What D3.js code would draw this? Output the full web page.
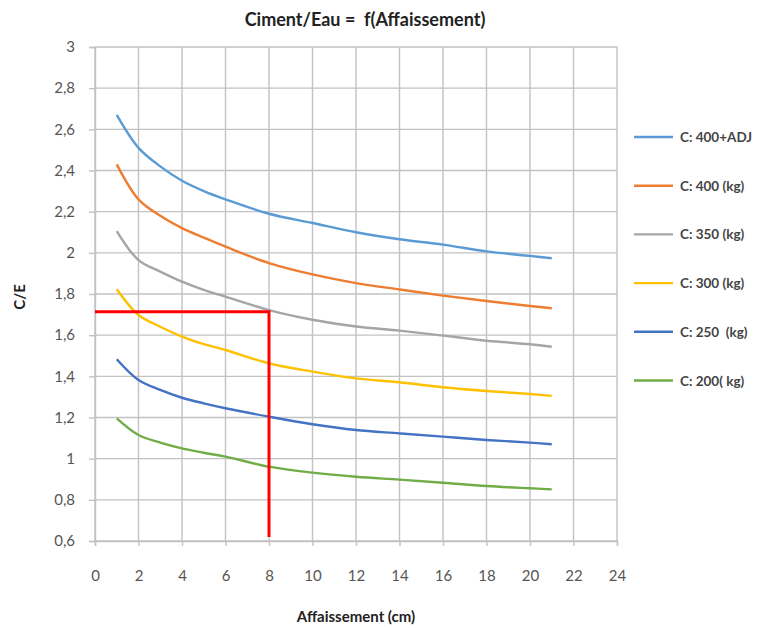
<!DOCTYPE html>
<html><head><meta charset="utf-8">
<script src="https://cdn.jsdelivr.net/npm/d3@7"></script>
<style>body{margin:0;background:#fff}svg{display:block}</style>
</head><body>
<svg id="c" width="760" height="628"></svg>
<script>
const xs = [1,2,3,4,5,6,8,10,12,14,16,18,20,21];
const seriesNames = ["C: 400+ADJ","C: 400 (kg)","C: 350 (kg)","C: 300 (kg)","C: 250  (kg)","C: 200( kg)"];
const s400adj = [2.67,2.51,2.42,2.35,2.30,2.26,2.19,2.145,2.10,2.066,2.04,2.007,1.985,1.974];
const s400 = [2.43,2.26,2.18,2.12,2.074,2.03,1.95,1.895,1.853,1.822,1.792,1.766,1.742,1.731];
const s350 = [2.106,1.965,1.909,1.86,1.82,1.787,1.722,1.675,1.642,1.622,1.598,1.573,1.556,1.544];
const s300 = [1.823,1.698,1.641,1.593,1.556,1.528,1.463,1.423,1.39,1.371,1.347,1.329,1.314,1.305];
const s250 = [1.483,1.382,1.334,1.296,1.269,1.245,1.204,1.167,1.139,1.123,1.107,1.091,1.078,1.07];
const s200 = [1.196,1.115,1.078,1.05,1.029,1.01,0.961,0.932,0.912,0.898,0.883,0.867,0.856,0.851];
const colors = ["#5B9BD5","#ED7D31","#A5A5A5","#FFC000","#4472C4","#70AD47"];
const xTicks = [0,2,4,6,8,10,12,14,16,18,20,22,24];
const yTicks = [0.6,0.8,1,1.2,1.4,1.6,1.8,2,2.2,2.4,2.6,2.8,3];
const refX = [0,8,8];
const refY = [1.714,1.714,0.62];

const allSeries = [s400adj,s400,s350,s300,s250,s200];
const svg = d3.select("#c");
const font = "Lato, 'Open Sans', sans-serif";
const x = d3.scaleLinear().domain([0,24]).range([95,617]);
const y = d3.scaleLinear().domain([0.6,3]).range([541,47]);

// grid
svg.append("g").selectAll("line").data(xTicks).join("line")
  .attr("x1",d=>x(d)).attr("x2",d=>x(d)).attr("y1",y(3)).attr("y2",y(0.6))
  .attr("stroke","#c2c2c2").attr("stroke-width",1.4);
svg.append("g").selectAll("line").data(yTicks).join("line")
  .attr("x1",x(0)).attr("x2",x(24)).attr("y1",d=>y(d)).attr("y2",d=>y(d))
  .attr("stroke","#c2c2c2").attr("stroke-width",1.4);

const fmt = d => String(+d.toFixed(1)).replace(".",",");
const xAxis = svg.append("g").attr("transform",`translate(0,${y(0.6)})`)
  .call(d3.axisBottom(x).tickValues(xTicks).tickSize(5).tickPadding(24).tickFormat(d=>d));
const yAxis = svg.append("g").attr("transform",`translate(${x(0)},0)`)
  .call(d3.axisLeft(y).tickValues(yTicks).tickSize(6).tickPadding(14).tickFormat(fmt));
[xAxis,yAxis].forEach(a=>{
  a.select(".domain").attr("stroke","#c2c2c2").attr("stroke-width",1.4);
  a.selectAll(".tick line").attr("stroke","#c2c2c2").attr("stroke-width",1.4);
  a.selectAll("text").attr("fill","#555").attr("font-family",font).attr("font-size",15);
});

const line = d3.line().x((d,i)=>x(xs[i])).y(d=>y(d)).curve(d3.curveCatmullRom.alpha(0.5));
svg.append("g").selectAll("path").data(allSeries).join("path")
  .attr("d",d=>line(d)).attr("fill","none")
  .attr("stroke",(d,i)=>colors[i]).attr("stroke-width",2.4).attr("stroke-linejoin","round");

// red reference lines
svg.append("path")
  .attr("d",d3.line().x((d,i)=>x(refX[i])).y(d=>y(d))(refY))
  .attr("fill","none").attr("stroke","#ff0000").attr("stroke-width",3);

// legend
const lg = svg.append("g");
seriesNames.forEach((n,i)=>{
  const yy = 137 + i*48.7;
  lg.append("line").attr("x1",634).attr("x2",673).attr("y1",yy).attr("y2",yy)
    .attr("stroke",colors[i]).attr("stroke-width",2.4);
  lg.append("text").attr("x",680).attr("y",yy+5).text(n)
    .attr("font-family",font).attr("font-size",13.5).attr("font-weight","bold").attr("fill","#444")
    .attr("xml:space","preserve").style("white-space","pre");
});

// titles
svg.append("text").attr("x",365).attr("y",26).attr("text-anchor","middle")
  .attr("font-family",font).attr("font-size",18).attr("font-weight","bold").attr("fill","#222")
  .style("white-space","pre").text("Ciment/Eau =  f(Affaissement)");
svg.append("text").attr("x",356).attr("y",622).attr("text-anchor","middle")
  .attr("font-family",font).attr("font-size",15).attr("font-weight","bold").attr("fill","#222")
  .text("Affaissement (cm)");
svg.append("text").attr("transform","translate(25,297) rotate(-90)").attr("text-anchor","middle")
  .attr("font-family",font).attr("font-size",15).attr("font-weight","bold").attr("fill","#222")
  .text("C/E");
</script>
</body></html>
